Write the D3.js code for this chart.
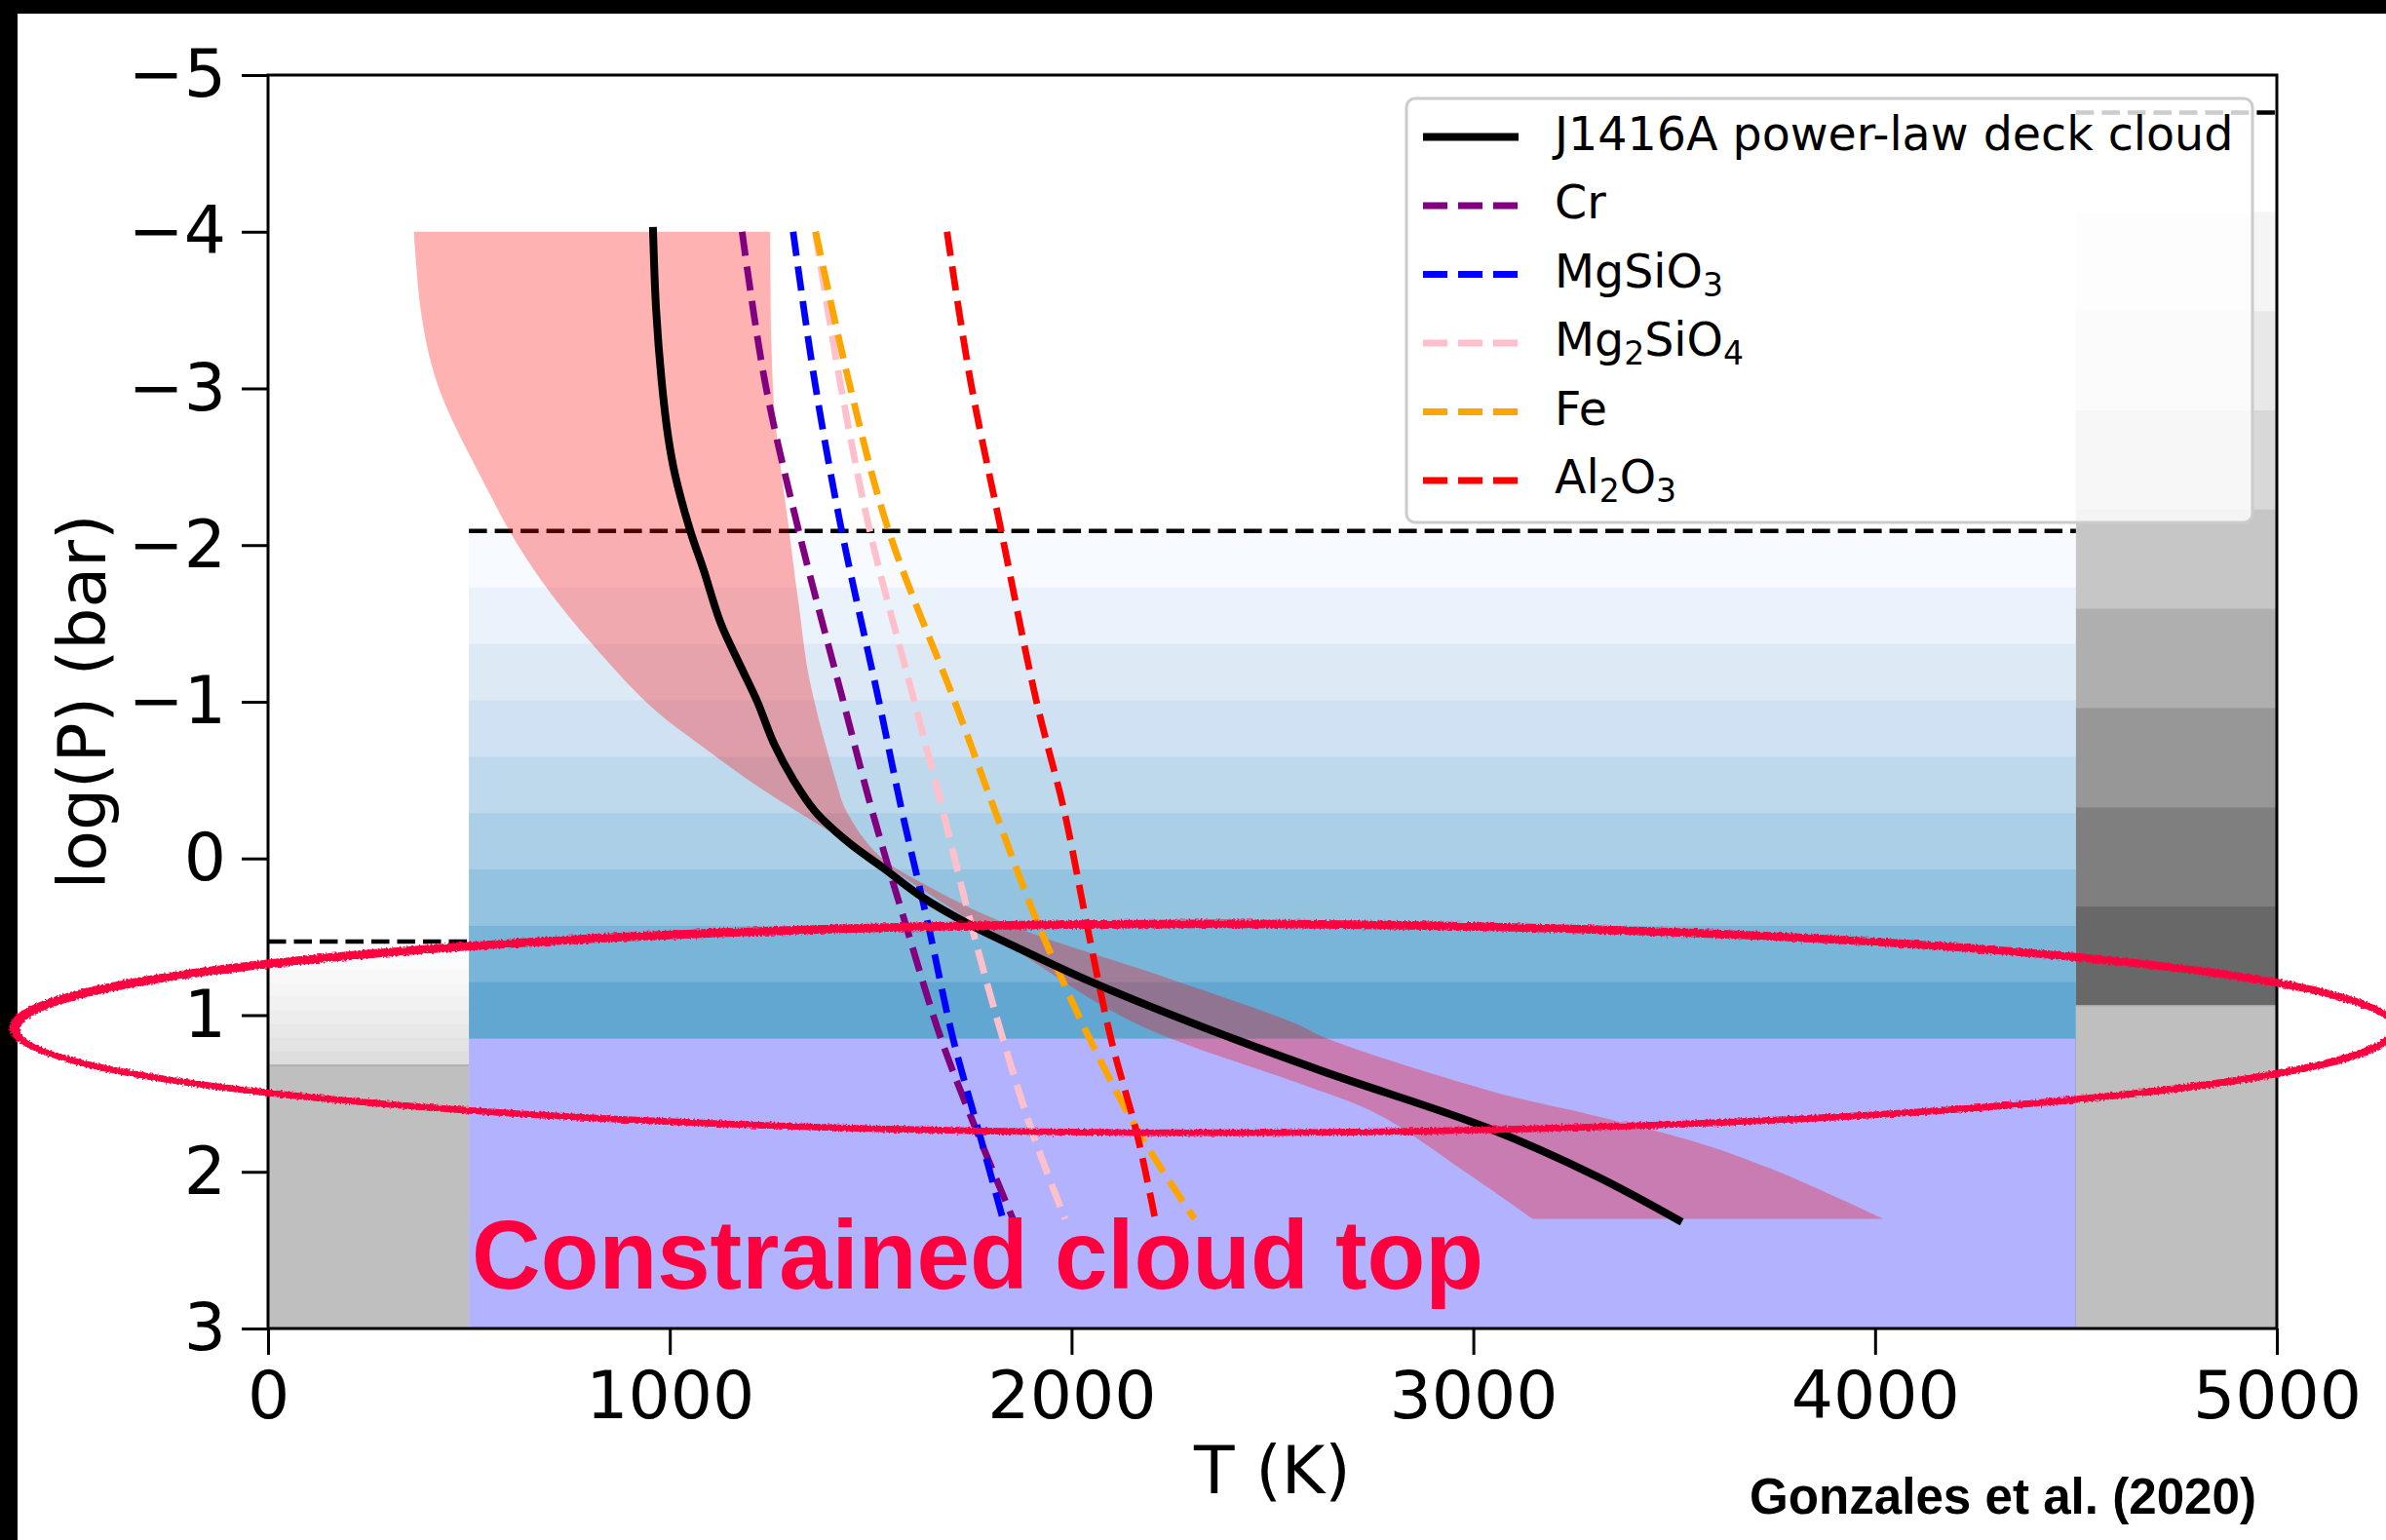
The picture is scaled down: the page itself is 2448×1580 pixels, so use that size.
<!DOCTYPE html>
<html>
<head>
<meta charset="utf-8">
<script src="https://cdn.jsdelivr.net/npm/d3@7"></script>
<style>
  body { margin: 0; background: #fff; }
  svg { display: block; }
</style>
</head>
<body>
<div id="chart"></div>
<script>
"use strict";

// axis ticks
const tempTicks = [0, 1000, 2000, 3000, 4000, 5000];
const logPTicks = [-5, -4, -3, -2, -1, 0, 1, 2, 3];

// cloud columns: left object, J1416A deck, right object
const layerTMin = [0, 500, 4500];
const layerTMax = [500, 4500, 5000];
const layerTop = [0.53, -2.09, -4.76];
const layerBase = [1.32, 1.15, 0.94];

// J1416A power-law deck cloud P-T profile
const profileLogP = [-4.03, -3.50, -3.04, -2.69, -2.45, -2.09, -1.85, -1.50, -1.26, -1.00, -0.74, -0.50,
  -0.30, -0.10, 0.06, 0.25, 0.42, 0.60, 0.78, 1.05, 1.36, 1.72, 2.03, 2.32];
const profileT = [958, 966, 980, 996, 1013, 1051, 1083, 1127, 1170, 1218, 1258, 1308,
  1362, 1446, 1531, 1630, 1745, 1890, 2042, 2300, 2627, 3036, 3308, 3519];

// profile spread (shaded band), hot edge and cool edge
const spreadHiLogP = [-4.0, -3.28, -2.81, -2.09, -1.62, -1.14, -0.50, -0.30, -0.02, 0.20, 0.43, 0.76, 1.05, 1.15, 1.48, 1.64, 1.80, 1.98, 2.30];
const spreadHiT = [1250, 1253, 1262, 1297, 1321, 1348, 1413, 1440, 1520, 1660, 1850, 2235, 2554, 2636, 3037, 3300, 3540, 3741, 4021];
const spreadLoLogP = [-4.0, -3.52, -3.16, -2.88, -2.43, -2.02, -1.69, -1.35, -0.97, -0.71, -0.45, 0.04, 0.54, 1.05, 1.43, 1.63, 1.99, 2.30];
const spreadLoT = [363, 379, 406, 444, 531, 617, 704, 813, 953, 1083, 1225, 1533, 1834, 2157, 2560, 2760, 2974, 3147];

// condensation curves
const condLogP = [-4.0, -3.04, -2.09, -1.01, -0.30, 0.42, 1.15, 1.76, 2.30];
const crT = [1180, 1237, 1321, 1431, 1504, 1587, 1675, 1767, 1854];
const mgsio3T = [1307, 1361, 1428, 1520, 1578, 1643, 1705, 1771, 1829];
const mg2sio4T = [1362, 1424, 1498, 1608, 1680, 1750, 1829, 1904, 1984];
const feT = [1363, 1446, 1545, 1708, 1810, 1917, 2045, 2170, 2306];
const al2o3T = [1690, 1749, 1825, 1912, 1982, 2038, 2098, 2163, 2208];

const legendLabels = ["J1416A power-law deck cloud", "Cr", "MgSiO_3", "Mg_2SiO_4", "Fe", "Al_2O_3"];

// hand-drawn ring around the cloud top (centre and half sizes in data units)
const ringT = [2329, 2965];
const ringLogP = [1.08, 0.67];

const W = 2448, H = 1580;
const x = d3.scaleLinear().domain([0, 5000]).range([275, 2336]);
const y = d3.scaleLinear().domain([-5, 3]).range([77, 1363]);

const svg = d3.select("#chart").append("svg")
  .attr("width", W).attr("height", H);

const defs = svg.append("defs");
const rough = defs.append("filter").attr("id", "rough")
  .attr("filterUnits", "userSpaceOnUse")
  .attr("x", 0).attr("y", 850).attr("width", W).attr("height", 400);
rough.append("feTurbulence").attr("type", "fractalNoise")
  .attr("baseFrequency", 0.5).attr("numOctaves", 2).attr("seed", 4).attr("result", "noise");
rough.append("feDisplacementMap").attr("in", "SourceGraphic").attr("in2", "noise")
  .attr("scale", 5).attr("xChannelSelector", "R").attr("yChannelSelector", "G");

svg.append("rect").attr("width", W).attr("height", H).attr("fill", "#fff");
svg.append("rect").attr("width", W).attr("height", 14).attr("fill", "#000");
svg.append("rect").attr("width", 18).attr("height", H).attr("fill", "#000");

// cloud columns
const bandRamp = [d3.interpolateGreys, d3.interpolateBlues, d3.interpolateGreys];
const bandStep = [1 / 36, 1 / 15, 1 / 12];
const baseFill = ["#bfbfbf", "#b2b2ff", "#bfbfbf"];
const baseEdge = ["#a9a9a9", "#9d9dd9", "#a9a9a9"];
const nBands = 9;

const cols = svg.append("g");
layerTop.forEach(function (top, k) {
  const x0 = x(layerTMin[k]), x1 = x(layerTMax[k]);
  const edges = d3.range(nBands + 1).map(i => top + (layerBase[k] - top) * i / nBands);
  for (let i = 0; i < nBands; i++) {
    cols.append("rect")
      .attr("x", x0).attr("width", x1 - x0)
      .attr("y", y(edges[i])).attr("height", y(edges[i + 1]) - y(edges[i]) + 0.5)
      .attr("fill", bandRamp[k](i * bandStep[k]));
  }
  cols.append("rect")
    .attr("x", x0).attr("width", x1 - x0)
    .attr("y", y(layerBase[k])).attr("height", y(3) - y(layerBase[k]))
    .attr("fill", baseFill[k]);
  if (k !== 1) {
    cols.append("line")
      .attr("x1", x0).attr("x2", x1)
      .attr("y1", y(layerBase[k])).attr("y2", y(layerBase[k]))
      .attr("stroke", baseEdge[k]).attr("stroke-width", 1.5);
  } else {
    cols.append("line")
      .attr("x1", x1).attr("x2", x1)
      .attr("y1", y(layerBase[k])).attr("y2", y(3))
      .attr("stroke", baseEdge[k]).attr("stroke-width", 1.5);
  }
  cols.append("line")
    .attr("x1", x0).attr("x2", x1)
    .attr("y1", y(top)).attr("y2", y(top))
    .attr("stroke", "#000").attr("stroke-width", 4.5)
    .attr("stroke-dasharray", "18.5,8");
});

// profile spread
const smooth = d3.line().x(d => x(d[0])).y(d => y(d[1])).curve(d3.curveCatmullRom.alpha(0.5));
const hiPts = spreadHiT.map((t, i) => [t, spreadHiLogP[i]]);
const loPts = spreadLoT.map((t, i) => [t, spreadLoLogP[i]]).reverse();
svg.append("path")
  .attr("d", smooth(hiPts) + "L" + smooth(loPts).slice(1) + "Z")
  .attr("fill", "rgba(255,0,0,0.3)");

// condensation curves
const condSeries = [crT, mgsio3T, mg2sio4T, feT, al2o3T];
const condColors = ["#800080", "#0000ff", "#ffc0cb", "#ffa500", "#ff0000"];
condSeries.forEach(function (ts, k) {
  svg.append("path")
    .attr("d", smooth(ts.map((t, i) => [t, condLogP[i]])))
    .attr("fill", "none")
    .attr("stroke", condColors[k])
    .attr("stroke-width", 6.8)
    .attr("stroke-dasharray", "25,11");
});

// profile
svg.append("path")
  .attr("d", smooth(profileT.map((t, i) => [t, profileLogP[i]])))
  .attr("fill", "none").attr("stroke", "#000").attr("stroke-width", 8);

// axes
const font = "'DejaVu Sans', sans-serif";
const xAxis = svg.append("g").attr("transform", "translate(0," + y(3) + ")")
  .call(d3.axisBottom(x).tickValues(tempTicks).tickSize(27).tickSizeOuter(0).tickPadding(17).tickFormat(d3.format("d")));
const yAxis = svg.append("g").attr("transform", "translate(" + x(0) + ",0)")
  .call(d3.axisLeft(y).tickValues(logPTicks).tickSize(27).tickSizeOuter(0).tickPadding(16).tickFormat(d3.format("d")));
[xAxis, yAxis].forEach(function (g) {
  g.select(".domain").remove();
  g.selectAll(".tick line").attr("stroke", "#000").attr("stroke-width", 3);
  g.selectAll(".tick text").attr("font-size", 68).attr("font-family", font).attr("fill", "#000");
});
svg.append("rect")
  .attr("x", x(0)).attr("y", y(-5))
  .attr("width", x(5000) - x(0)).attr("height", y(3) - y(-5))
  .attr("fill", "none").attr("stroke", "#000").attr("stroke-width", 3);

svg.append("text").attr("x", (x(0) + x(5000)) / 2).attr("y", 1532)
  .attr("text-anchor", "middle").attr("font-family", font).attr("font-size", 68)
  .text("T (K)");
svg.append("text").attr("transform", "translate(108," + (y(-5) + y(3)) / 2 + ") rotate(-90)")
  .attr("text-anchor", "middle").attr("font-family", font).attr("font-size", 68)
  .text("log(P) (bar)");

// legend
const leg = svg.append("g");
leg.append("rect")
  .attr("x", 1443).attr("y", 101).attr("width", 868).attr("height", 435)
  .attr("rx", 9).attr("fill", "rgba(255,255,255,0.8)")
  .attr("stroke", "#cccccc").attr("stroke-width", 3);
legendLabels.forEach(function (label, i) {
  const ry = 140.5 + i * 70.5;
  const h = leg.append("line")
    .attr("x1", 1460).attr("x2", 1558).attr("y1", ry).attr("y2", ry);
  if (i === 0) {
    h.attr("stroke", "#000").attr("stroke-width", 8);
  } else {
    h.attr("stroke", condColors[i - 1]).attr("stroke-width", 6.8).attr("stroke-dasharray", "25,11");
  }
  const t = leg.append("text").attr("x", 1595).attr("y", ry + 22)
    .attr("font-family", font).attr("font-size", 47.5).attr("fill", "#000");
  label.split(/(_\d)/).filter(s => s.length).forEach(function (part) {
    if (part[0] === "_") {
      t.append("tspan").attr("font-size", 33).attr("dy", 9).text(part.slice(1));
    } else {
      t.append("tspan").attr("dy", t.selectAll("tspan").size() ? -9 : 0).text(part);
    }
  });
});

// annotations
svg.append("text").attr("x", 484).attr("y", 1322)
  .attr("font-family", "'Liberation Sans', Arial, sans-serif").attr("font-weight", "bold")
  .attr("font-size", 100).attr("fill", "#ff003f")
  .attr("textLength", 1038).attr("lengthAdjust", "spacingAndGlyphs")
  .text("Constrained cloud top");
svg.append("text").attr("x", 1795).attr("y", 1553)
  .attr("font-family", "'Liberation Sans', Arial, sans-serif").attr("font-weight", "bold")
  .attr("font-size", 51).attr("fill", "#000")
  .attr("textLength", 520).attr("lengthAdjust", "spacingAndGlyphs")
  .text("Gonzales et al. (2020)");

const cx = x(ringT[0]), cy = y(ringLogP[0]);
const rx = x(ringT[0] + ringT[1]) - cx, ry = y(ringLogP[0] + ringLogP[1]) - cy;
const ring = svg.append("g").attr("filter", "url(#rough)")
  .attr("fill", "none").attr("stroke", "#ff003f");
ring.append("ellipse").attr("cx", cx).attr("cy", cy).attr("rx", rx).attr("ry", ry)
  .attr("stroke-width", 6.5);
ring.append("ellipse").attr("cx", cx + 3).attr("cy", cy + 2).attr("rx", rx - 2).attr("ry", ry - 1)
  .attr("stroke-width", 5);
</script>
</body>
</html>
